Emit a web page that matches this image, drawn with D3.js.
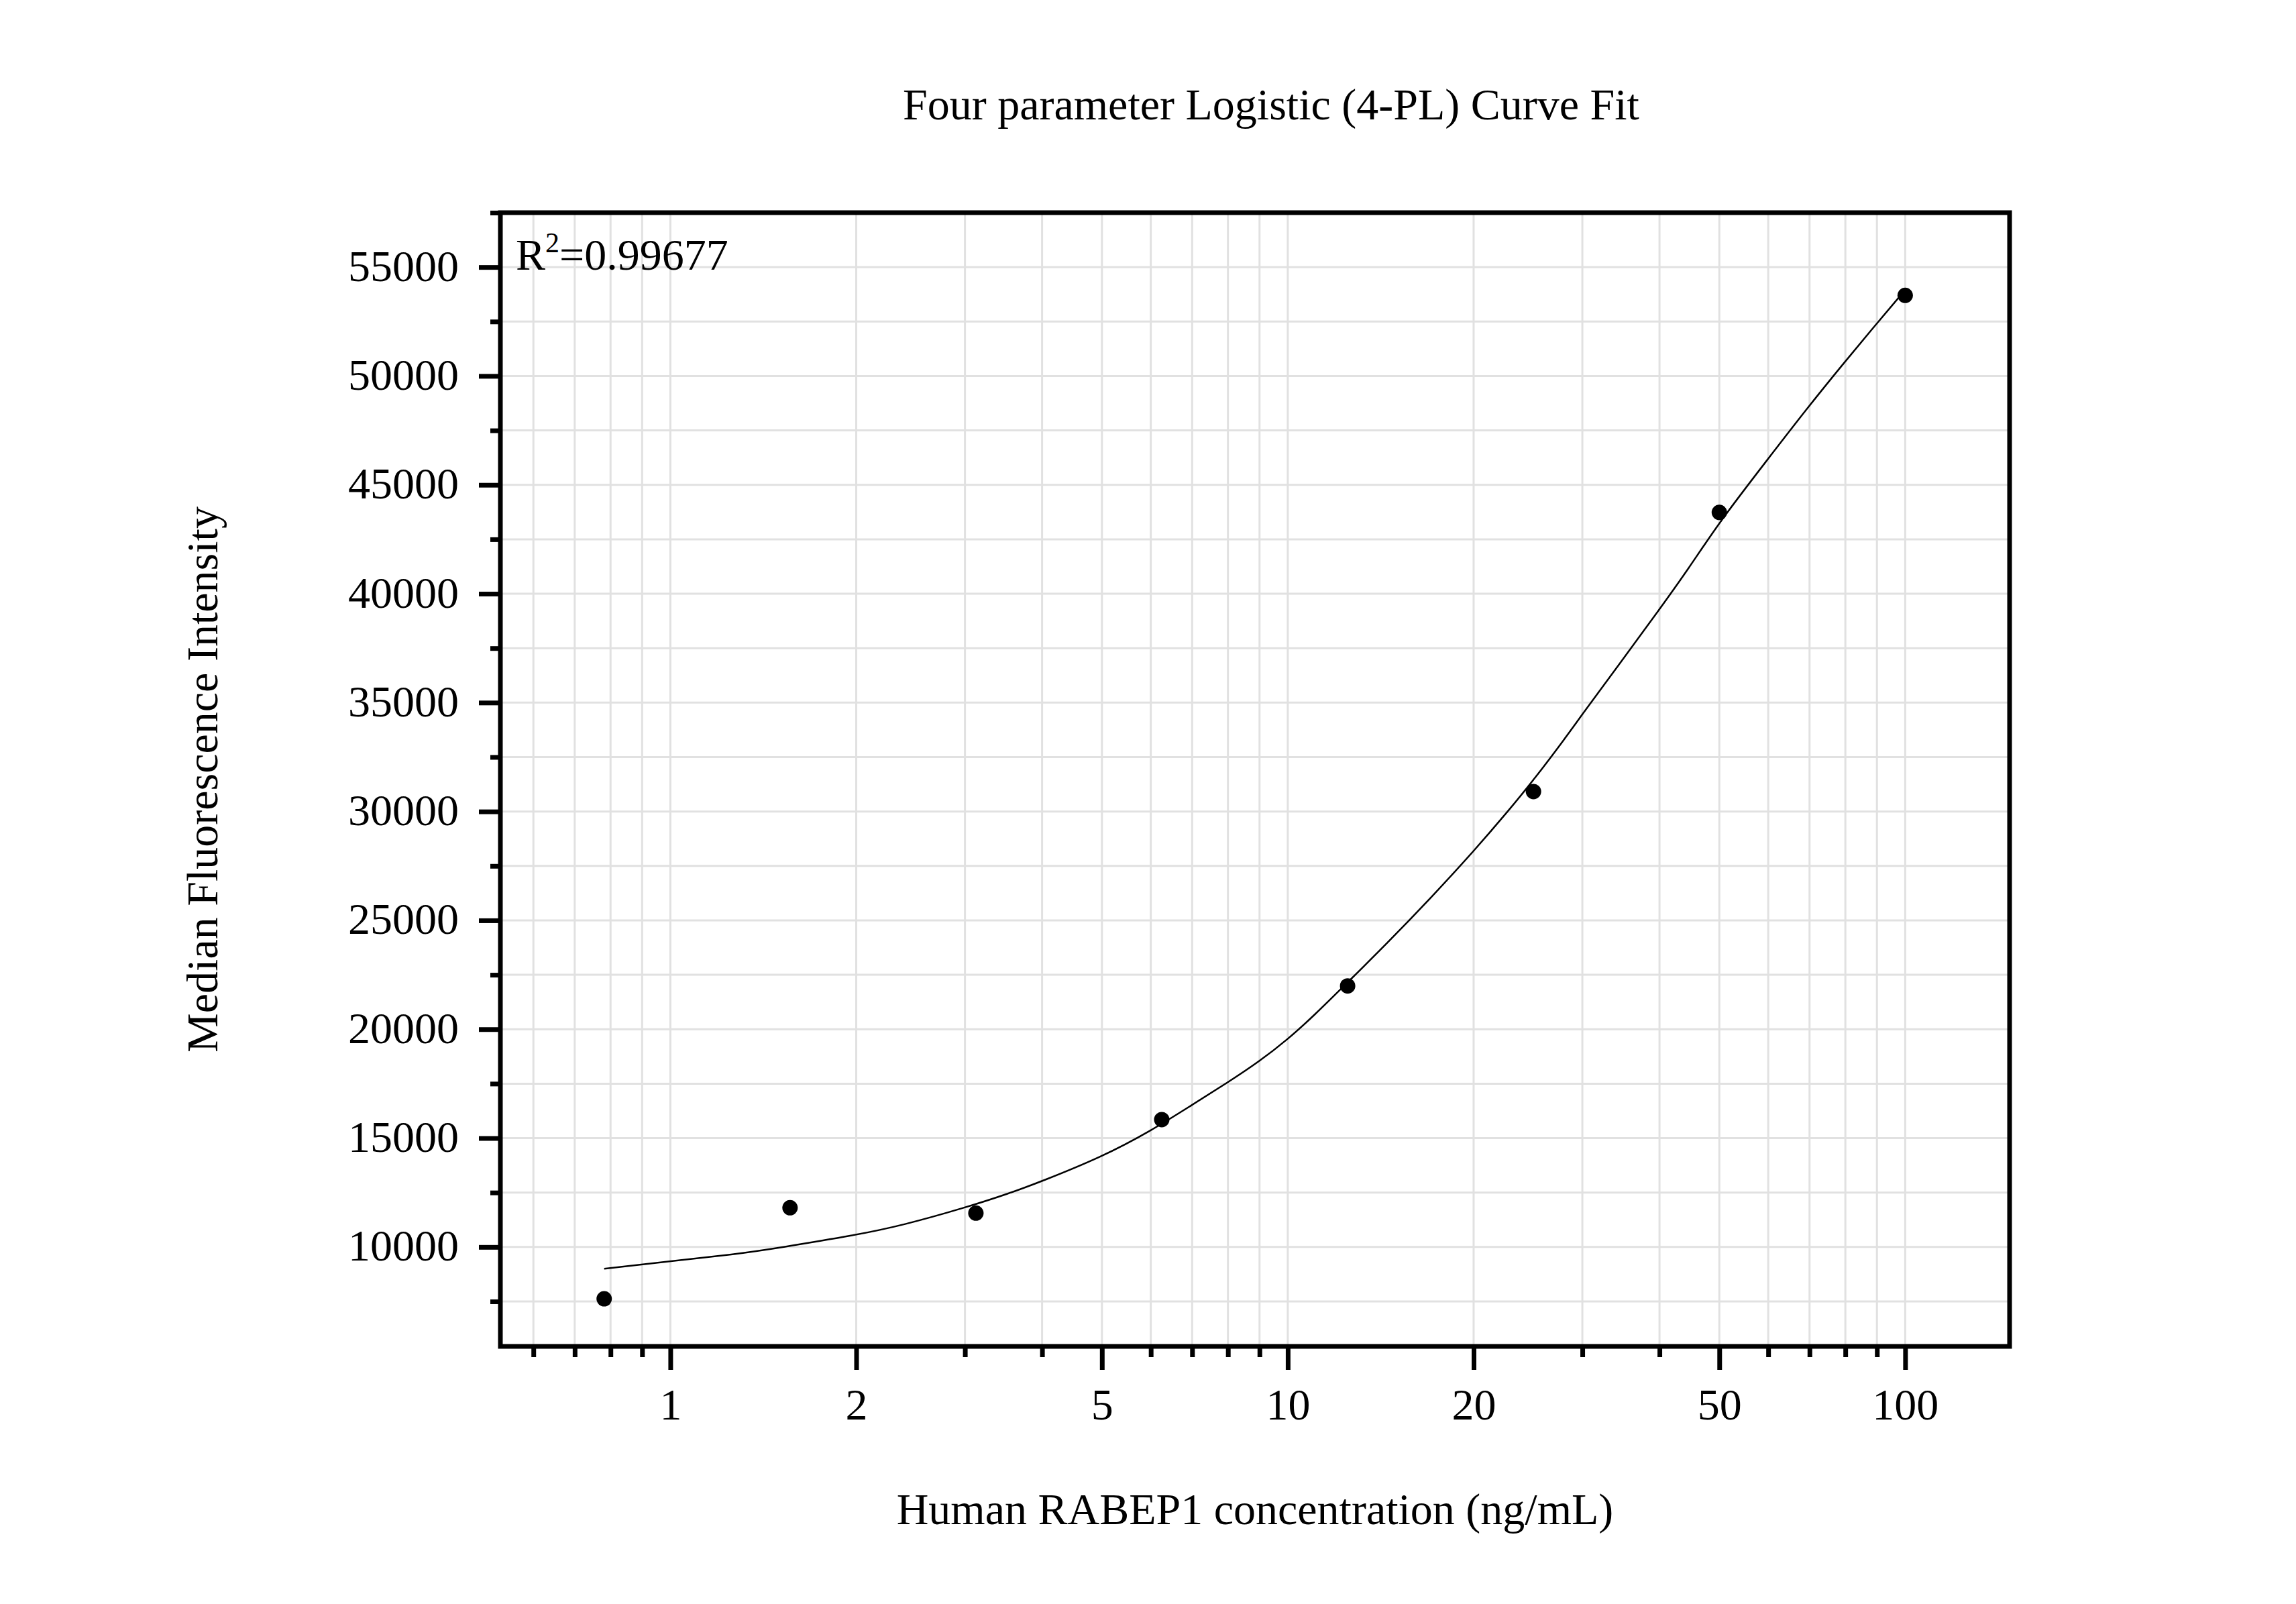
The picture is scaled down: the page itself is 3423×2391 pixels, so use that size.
<!DOCTYPE html>
<html>
<head>
<meta charset="utf-8">
<script src="https://cdn.jsdelivr.net/npm/d3@7"></script>
<style>
  html, body { margin: 0; padding: 0; background: #ffffff; }
  svg { display: block; }
</style>
</head>
<body>
<script>
// ---------- data ----------
const concentrations = [0.78125, 1.5625, 3.125, 6.25, 12.5, 25, 50, 100];
const mfi = [7622, 11801, 11556, 15849, 21990, 30914, 43736, 53700];

// fitted 4-PL curve
const fitX = [0.78125, 0.954, 1.285, 1.499, 2, 2.376, 3, 3.539, 4, 5, 6, 7, 8, 9, 10, 11.02, 12.49, 14.39, 17.1, 20, 22.8, 25, 28.14, 30, 34.09, 40, 44.58, 50, 59.7, 69.2, 79.6, 89, 100];
const fitY = [8999, 9285, 9675, 9963, 10547, 10993, 11801, 12459, 13022, 14138, 15328, 16529, 17559, 18526, 19536, 20619, 22144, 23865, 26068, 28170, 30050, 31437, 33364, 34466, 36600, 39284, 41150, 43289, 46123, 48480, 50605, 52255, 53950];

const xMajorTicks = [1, 2, 5, 10, 20, 50, 100];
const xTickLabels = ["1", "2", "5", "10", "20", "50", "100"];
const xMinorTicks = [0.6, 0.7, 0.8, 0.9, 3, 4, 6, 7, 8, 9, 30, 40, 60, 70, 80, 90];
const yMajorTicks = [10000, 15000, 20000, 25000, 30000, 35000, 40000, 45000, 50000, 55000];
const yTickLabels = ["10000", "15000", "20000", "25000", "30000", "35000", "40000", "45000", "50000", "55000"];
const yMinorTicks = [7500, 12500, 17500, 22500, 27500, 32500, 37500, 42500, 47500, 52500, 57500];

const titleText = "Four parameter Logistic (4-PL) Curve Fit";
const xLabelText = "Human RABEP1 concentration (ng/mL)";
const yLabelText = "Median Fluorescence Intensity";
const r2Value = "=0.99677";

// ---------- layout ----------
const W = 3423, H = 2391;
const L = 746, R = 2996, T = 317, B = 2007;
const FONT = "'Liberation Serif', 'Times New Roman', Times, serif";

const svg = d3.select("body").append("svg")
  .attr("width", W).attr("height", H)
  .attr("viewBox", `0 0 ${W} ${H}`);
svg.append("rect").attr("width", W).attr("height", H).attr("fill", "#ffffff");

const x = d3.scaleLog().domain([0.5305, 147.6]).range([L, R]);
const y = d3.scaleLinear().domain([5435, 57500]).range([B, T]);

// ---------- grid ----------
const grid = svg.append("g").attr("stroke", "#e1e1e1").attr("stroke-width", 3);
const xGridVals = xMajorTicks.concat(xMinorTicks);
grid.selectAll("line.gx").data(xGridVals).enter().append("line")
  .attr("x1", d => x(d)).attr("x2", d => x(d))
  .attr("y1", T).attr("y2", B);
const yGridVals = yMajorTicks.concat(yMinorTicks.filter(v => v < 57500));
grid.selectAll("line.gy").data(yGridVals).enter().append("line")
  .attr("x1", L).attr("x2", R)
  .attr("y1", d => y(d)).attr("y2", d => y(d));

// ---------- axes ----------
function styleAxis(g) {
  g.select(".domain").remove();
  g.selectAll("line").attr("stroke", "#000").attr("stroke-width", 7);
  g.selectAll("text").attr("font-family", FONT).attr("font-size", 66).attr("fill", "#000");
}

const xAxisMajor = svg.append("g").attr("transform", `translate(0,${B})`)
  .call(d3.axisBottom(x).tickValues(xMajorTicks).tickSize(35).tickSizeOuter(0)
    .tickFormat((d, i) => xTickLabels[i]));
styleAxis(xAxisMajor);
xAxisMajor.selectAll("text").attr("y", 2116 - B).attr("dy", null);

const xAxisMinor = svg.append("g").attr("transform", `translate(0,${B})`)
  .call(d3.axisBottom(x).tickValues(xMinorTicks).tickSize(16).tickSizeOuter(0).tickFormat(""));
styleAxis(xAxisMinor);

const yAxisMajor = svg.append("g").attr("transform", `translate(${L},0)`)
  .call(d3.axisLeft(y).tickValues(yMajorTicks).tickSize(32).tickSizeOuter(0)
    .tickFormat((d, i) => yTickLabels[i]));
styleAxis(yAxisMajor);
yAxisMajor.selectAll("text").attr("x", 684 - L).attr("dy", null).attr("y", 20);

const yAxisMinor = svg.append("g").attr("transform", `translate(${L},0)`)
  .call(d3.axisLeft(y).tickValues(yMinorTicks).tickSize(15).tickSizeOuter(0).tickFormat(""));
styleAxis(yAxisMinor);

// ---------- fit curve ----------
const fitData = fitX.map((v, i) => [v, fitY[i]]);
svg.append("path").datum(fitData)
  .attr("fill", "none").attr("stroke", "#000").attr("stroke-width", 2.5)
  .attr("d", d3.line().x(d => x(d[0])).y(d => y(d[1])).curve(d3.curveBasis));

// ---------- points ----------
svg.selectAll("circle.pt").data(concentrations).enter().append("circle")
  .attr("cx", d => x(d)).attr("cy", (d, i) => y(mfi[i])).attr("r", 11.5).attr("fill", "#000");

// ---------- frame ----------
svg.append("rect").attr("x", L).attr("y", T).attr("width", R - L).attr("height", B - T)
  .attr("fill", "none").attr("stroke", "#000").attr("stroke-width", 7);

// ---------- texts ----------
svg.append("text").attr("x", 1895).attr("y", 178).attr("text-anchor", "middle")
  .attr("font-family", FONT).attr("font-size", 66).text(titleText);

svg.append("text").attr("x", (L + R) / 2).attr("y", 2272).attr("text-anchor", "middle")
  .attr("font-family", FONT).attr("font-size", 66).text(xLabelText);

svg.append("text").attr("transform", `translate(324,${(T + B) / 2}) rotate(-90)`)
  .attr("text-anchor", "middle").attr("font-family", FONT).attr("font-size", 66).text(yLabelText);

const r2 = svg.append("text").attr("x", 769).attr("y", 402)
  .attr("font-family", FONT).attr("font-size", 66);
r2.append("tspan").text("R");
r2.append("tspan").attr("font-size", 42).attr("dy", -26).text("2");
r2.append("tspan").attr("dy", 26).text(r2Value);
</script>
</body>
</html>
